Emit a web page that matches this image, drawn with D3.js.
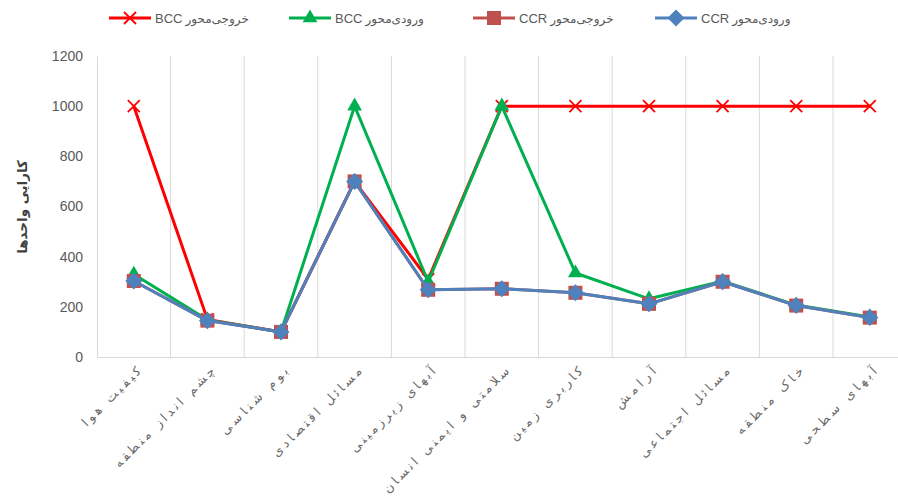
<!DOCTYPE html>
<html>
<head>
<meta charset="utf-8">
<script src="https://cdn.jsdelivr.net/npm/d3@7"></script>
<style>
  html, body { margin: 0; padding: 0; background: #ffffff; }
  svg { display: block; }
</style>
</head>
<body>
<svg id="chart" width="898" height="497"></svg>
<script>
// Efficiency scores of the environmental factors under CCR and BCC models
const categories = [
  "کیفیت هوا", "چشم انداز منطقه", "بوم شناسی", "مسائل اقتصادی",
  "آبهای زیرزمینی", "سلامتی و ایمنی انسان", "کاربری زمین", "آرامش",
  "مسائل اجتماعی", "خاک منطقه", "آبهای سطحی"
];
const bccOutput = [1000, 150, 100, 700, 310, 1000, 1000, 1000, 1000, 1000, 1000];
const bccInput  = [330, 148, 100, 1000, 300, 1000, 335, 232, 302, 207, 160];
const ccrOutput = [303, 145, 100, 700, 268, 272, 256, 212, 300, 205, 157];
const ccrInput  = [303, 145, 100, 700, 268, 272, 256, 212, 300, 205, 157];
const yTicks = [0, 200, 400, 600, 800, 1000, 1200];

const seriesNames = {
  bccOut: ["خروجی\u200cمحور", "BCC"],
  bccIn:  ["ورودی\u200cمحور", "BCC"],
  ccrOut: ["خروجی\u200cمحور", "CCR"],
  ccrIn:  ["ورودی\u200cمحور", "CCR"]
};

const series = [
  { key: "bccOut", values: bccOutput, color: "#FF0000", marker: "x" },
  { key: "bccIn",  values: bccInput,  color: "#00B050", marker: "triangle" },
  { key: "ccrOut", values: ccrOutput, color: "#C0504D", marker: "square" },
  { key: "ccrIn",  values: ccrInput,  color: "#4F81BD", marker: "diamond" }
];

const svg = d3.select("#chart");
const plotLeft = 97, bandW = 73.6, plotTop = 56, plotBottom = 357;

const x = d3.scaleBand().domain(categories)
  .range([plotLeft, plotLeft + bandW * categories.length])
  .paddingInner(0).paddingOuter(0);
const cx = c => x(c) + x.bandwidth() / 2;
const y = d3.scaleLinear().domain([0, 1200]).range([plotBottom, plotTop]);

// vertical gridlines between categories
svg.append("g").selectAll("line")
  .data(categories.slice(1))
  .join("line")
  .attr("x1", d => x(d)).attr("x2", d => x(d))
  .attr("y1", plotTop).attr("y2", plotBottom)
  .attr("stroke", "#d9d9d9").attr("stroke-width", 1);

// value axis
const yAxis = svg.append("g")
  .attr("transform", `translate(${plotLeft},0)`)
  .call(d3.axisLeft(y).tickValues(yTicks).tickFormat(d3.format("d")).tickSize(0).tickPadding(14));
yAxis.select(".domain").attr("stroke", "#d9d9d9");
yAxis.selectAll("text")
  .attr("fill", "#595959")
  .style("font-family", "'Liberation Sans', Arial, sans-serif")
  .style("font-size", "14px");

// category axis
const xAxis = svg.append("g")
  .attr("transform", `translate(0,${plotBottom})`)
  .call(d3.axisBottom(x).tickSize(0).tickFormat(""));
xAxis.select(".domain").attr("stroke", "#d9d9d9");

// rotated category labels, spread out along their baseline
const catLabels = svg.append("g").selectAll("text")
  .data(categories)
  .join("text")
  .attr("transform", d => `translate(${cx(d) + 8},${plotBottom + 15}) rotate(-45)`)
  .attr("text-anchor", "end")
  .attr("fill", "#6a6a6a")
  .style("font-family", "'DejaVu Sans', sans-serif")
  .style("font-size", "12.5px")
  .text(d => d);
catLabels.each(function () {
  const len = this.getComputedTextLength();
  d3.select(this).attr("textLength", len * 1.48).attr("lengthAdjust", "spacing");
});

// axis title
svg.append("text")
  .attr("transform", "translate(27,207) rotate(-90)")
  .attr("text-anchor", "middle")
  .attr("fill", "#404040")
  .style("font-family", "'DejaVu Sans', sans-serif")
  .style("font-size", "13.5px")
  .style("font-weight", "bold")
  .text("کارایی واحدها");

function drawMarker(g, type, color) {
  if (type === "x") {
    g.append("path").attr("d", "M-6,-6L6,6M-6,6L6,-6")
      .attr("stroke", color).attr("stroke-width", 1.8).attr("fill", "none");
  } else if (type === "triangle") {
    g.append("path").attr("d", d3.symbol(d3.symbolTriangle, 95)())
      .attr("fill", color);
  } else if (type === "square") {
    g.append("rect").attr("x", -7).attr("y", -7).attr("width", 14).attr("height", 14)
      .attr("fill", color);
  } else if (type === "diamond") {
    g.append("path").attr("d", "M0,-8.5L8.5,0L0,8.5L-8.5,0Z")
      .attr("fill", color);
  }
}

const line = d3.line().x((d, i) => cx(categories[i])).y(d => y(d));

series.forEach(s => {
  const g = svg.append("g");
  g.append("path")
    .datum(s.values)
    .attr("d", line)
    .attr("fill", "none")
    .attr("stroke", s.color)
    .attr("stroke-width", 3)
    .attr("stroke-linejoin", "round");
  s.values.forEach((v, i) => {
    const m = g.append("g").attr("transform", `translate(${cx(categories[i])},${y(v)})`);
    drawMarker(m, s.marker, s.color);
  });
});

// legend
const legendX = [109, 289, 473, 655];
series.forEach((s, i) => {
  const g = svg.append("g").attr("transform", `translate(${legendX[i]},18)`);
  g.append("line").attr("x1", 0).attr("x2", 42).attr("y1", 0).attr("y2", 0)
    .attr("stroke", s.color).attr("stroke-width", 3);
  const m = g.append("g").attr("transform", "translate(21,0)");
  drawMarker(m, s.marker, s.color);
  const name = seriesNames[s.key];
  const t1 = g.append("text").attr("x", 46).attr("y", 5)
    .attr("fill", "#595959")
    .style("font-family", "'Liberation Sans', Arial, sans-serif")
    .style("font-size", "13px")
    .text(name[1]);
  const w = t1.node().getComputedTextLength();
  g.append("text").attr("x", 46 + w + 3).attr("y", 5)
    .attr("fill", "#595959")
    .style("font-family", "'DejaVu Sans', sans-serif")
    .style("font-size", "12px")
    .text(name[0]);
});
</script>
</body>
</html>
